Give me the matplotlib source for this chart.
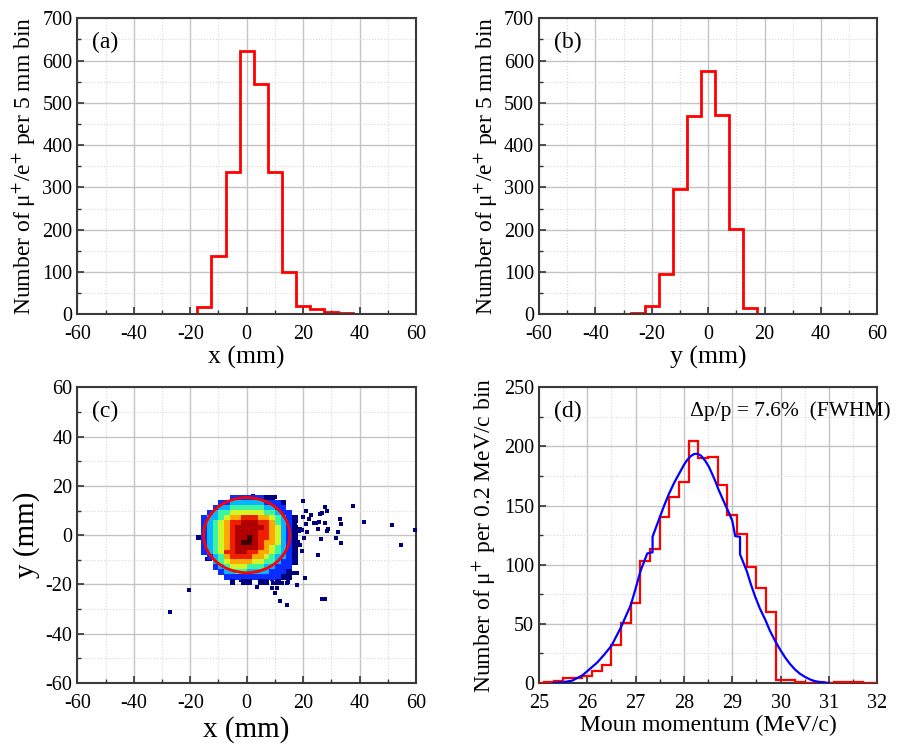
import numpy as np
import matplotlib
matplotlib.use("Agg")
import matplotlib.pyplot as plt
from matplotlib.ticker import MultipleLocator
from matplotlib.patches import Ellipse

plt.rcParams["font.family"] = "serif"
plt.rcParams["font.serif"] = ["Liberation Serif", "DejaVu Serif"]
plt.rcParams["mathtext.fontset"] = "stix"
plt.rcParams["axes.unicode_minus"] = False

# (a) x profile, 5 mm bins centred on multiples of 5
x_centers = [-60, -55, -50, -45, -40, -35, -30, -25, -20, -15, -10, -5, 0,
             5, 10, 15, 20, 25, 30, 35, 40, 45, 50, 55, 60]
x_counts = [0, 0, 0, 0, 0, 0, 0, 1, 1, 17, 138, 337, 623,
            545, 337, 99, 20, 12, 6, 2, 1, 0, 1, 1, 1]

# (b) y profile
y_centers = x_centers
y_counts = [0, 0, 0, 0, 0, 0, 1, 4, 20, 95, 297, 469, 576,
            471, 202, 16, 0, 0, 0, 0, 0, 0, 0, 0, 0]

# (c) beam spot: density levels on a 2 mm grid (1 = sparse ... 9 = densest)
core_x = [-17, -15, -13, -11, -9, -7, -5, -3, -1, 1, 3, 5, 7, 9, 11, 13, 15, 17]
core_y = [15, 13, 11, 9, 7, 5, 3, 1, -1, -3, -5, -7, -9, -11, -13, -15, -17, -19]
core_levels = [
    ". . . . . . 2 2 2 2 2 2 1 1 . . . .",
    ". . . . 2 2 3 3 3 3 3 3 2 2 2 1 . .",
    ". . . 2 3 3 4 4 4 4 4 4 3 3 2 2 . .",
    ". . 2 3 4 4 5 5 5 5 5 5 4 4 3 2 2 .",
    ". 2 3 3 4 5 6 6 7 7 7 6 6 5 4 3 2 1",
    ". 2 3 4 5 6 7 7 8 8 8 7 7 6 4 3 2 .",
    ". 2 3 4 5 6 7 8 8 8 8 8 7 6 5 3 2 1",
    ". 2 3 4 5 6 7 8 8 8 8 7 7 6 5 3 2 1",
    "1 2 3 4 5 6 7 8 8 9 8 7 7 6 5 3 2 1",
    ". 2 3 4 5 6 7 8 9 9 8 7 6 6 5 3 2 1",
    ". 2 3 4 5 6 7 8 8 8 8 7 6 5 4 3 2 1",
    ". 2 3 4 5 7 7 8 8 7 7 6 6 5 4 3 2 1",
    ". . 2 3 4 6 7 7 7 7 6 6 5 4 3 3 2 1",
    ". . . 3 4 5 6 6 6 6 5 5 4 4 3 2 2 1",
    ". . . 2 3 4 5 5 5 4 4 4 3 3 2 2 2 .",
    ". . . . 2 3 3 4 4 3 3 3 3 2 2 2 1 .",
    ". . . . . 2 2 2 2 2 2 2 2 2 2 1 1 .",
    ". . . . . . 1 . 1 1 . 1 1 . 1 . . .",
]
# sparse halo events
halo_x = [-27.2, -20.3, 59.5, 54.7, 51.5, 41.7, 37.8, 33.0, 33.5, 32.2, 31.7, 33.5,
          27.8, 28.6, 26.0, 26.6, 22.7, 21.1, 22.1, 19.9, 23.7, 24.5, 25.7, 27.6,
          28.7, 28.4, 26.3, 25.1, 21.1, 19.5, 18.6, 18.9, 17.5, 16.9, 21.3, 20.4,
          18.3, 18.9, 19.5, 17.5, 25.2, 16.8, 19.9, 27.8, 26.6, 20.5, 18.0, 16.6,
          18.0, 14.2, 11.8, 12.4, 10.8, 10.1, 8.9, 14.8, 3.6, 4.8, 5.9, 8.9,
          9.5, -2.1, 0.0, 1.2, 16.6, 15.4, 13.0, 13.6, 17.2, 15.4, 16.6, 17.8,
          16.2, 10.1, 9.5, 12.1, 2.2, -4.1, -15.1, -15.6, -14.2, -13.0, 14.2, 17.2]
halo_y = [-31.0, -22.3, 2.2, -4.0, 4.0, 5.3, 12.0, 6.5, 4.4, 1.1, -1.2, -3.3,
          11.4, 9.9, 8.7, 8.9, 8.0, 9.9, 6.6, 7.3, 4.9, 4.9, 5.5, 4.9,
          2.6, 1.5, -1.5, 2.4, 4.5, 2.2, 1.5, 2.5, 5.6, 5.1, 1.1, -1.2,
          -2.6, -3.9, -6.6, -5.3, -8.0, -8.7, 13.9, -25.8, -25.8, -17.5, -20.2, -15.5,
          -15.5, -28.3, -26.6, -19.6, -21.6, -23.6, -21.6, -18.9, -20.9, -19.3, -19.0, -17.9,
          -19.5, -18.4, -18.9, -17.5, -10.7, -12.7, -13.4, -16.8, -8.7, -6.7, -3.3, -2.6,
          -0.4, 15.4, 13.2, 12.9, 15.8, 15.5, 5.5, -1.8, -9.6, -9.6, -19.3, 5.0]
level_colors = {"1": "#00007e", "2": "#0a2cff", "3": "#08b4ff", "4": "#3cf5a0",
                "5": "#d2f52a", "6": "#ffa800", "7": "#f01e00", "8": "#b00000",
                "9": "#3c0000"}
spot_center = (0.0, 0.0)
spot_diameter = 30.5

# (d) momentum spectrum, 0.2 MeV/c bins
p_edges = [24.9, 25.1, 25.3, 25.5, 25.7, 25.9, 26.1, 26.3, 26.5, 26.7, 26.9, 27.1,
           27.3, 27.5, 27.7, 27.9, 28.1, 28.3, 28.5, 28.7, 28.9, 29.1, 29.3, 29.5,
           29.7, 29.9, 30.1, 30.3, 30.5, 30.7, 30.9, 31.1, 31.3, 31.5, 31.7, 31.9, 32.1]
p_counts = [0, 1, 2, 4, 4, 6, 10, 15, 32, 51, 68, 103,
            113, 140, 157, 170, 205, 190, 191, 167, 142, 126, 98, 80,
            60, 2.5, 2.5, 1, 0, 1, 0, 1, 1, 1, 0, 0]
fit_x = [25.30, 25.48, 25.69, 25.90, 26.00, 26.21, 26.35, 26.50, 26.69, 26.90,
         27.00, 27.10, 27.24, 27.35, 27.35, 27.48, 27.59, 27.69, 27.80, 27.90,
         28.00, 28.07, 28.14, 28.21, 28.28, 28.35, 28.44, 28.52, 28.58, 28.65,
         28.71, 28.78, 28.85, 28.93, 29.00, 29.06, 29.16, 29.16, 29.30, 29.38,
         29.47, 29.57, 29.68, 29.78, 29.89, 30.00, 30.10, 30.20, 30.30, 30.40,
         30.51, 30.62, 30.72, 30.85, 31.00]
fit_y = [0.0, 0.5, 2.0, 6.5, 10.0, 17.5, 24.0, 31.5, 46.6, 66.0,
         80.0, 94.6, 109.5, 110.5, 123.7, 138.0, 150.0, 160.0, 169.5, 177.0,
         184.5, 188.7, 191.8, 193.6, 193.8, 192.3, 187.9, 182.5, 177.0, 170.5,
         164.0, 157.5, 151.0, 144.0, 137.0, 124.2, 123.6, 108.8, 94.6, 84.0,
         73.4, 63.0, 53.7, 44.0, 35.3, 27.5, 21.2, 15.8, 11.3, 7.8,
         5.0, 2.8, 1.4, 0.5, 0.0]

TICK_SIZE = 14.5
LABEL_SIZE = 17


def style_axes(ax, xmaj, ymaj):
    ax.xaxis.set_major_locator(MultipleLocator(xmaj))
    ax.xaxis.set_minor_locator(MultipleLocator(xmaj / 2))
    ax.yaxis.set_major_locator(MultipleLocator(ymaj))
    ax.yaxis.set_minor_locator(MultipleLocator(ymaj / 2))
    ax.grid(which="major", color="#c4c4c4", linewidth=1.0)
    ax.grid(which="minor", color="#d8d8d8", linewidth=0.8, linestyle=":")
    ax.set_axisbelow(True)
    ax.tick_params(which="both", direction="in", top=False, right=False,
                   labelsize=TICK_SIZE, color="#333333")
    ax.tick_params(axis="x", which="both", pad=8)
    ax.tick_params(which="major", length=5, width=1.2)
    ax.tick_params(which="minor", length=3, width=1.0)
    for sp in ax.spines.values():
        sp.set_color("#3a3a3a")
        sp.set_linewidth(1.5)


def bin_edges(centers, width):
    return [c - width / 2 for c in centers] + [centers[-1] + width / 2]


fig = plt.figure(figsize=(8.97, 7.46), dpi=100)
ax_a = fig.add_axes([0.0862, 0.5787, 0.3776, 0.3968])
ax_b = fig.add_axes([0.6009, 0.5787, 0.3771, 0.3968])
ax_c = fig.add_axes([0.0862, 0.0845, 0.3776, 0.3963])
ax_d = fig.add_axes([0.6009, 0.0845, 0.3771, 0.3963])

# (a)
ax_a.stairs(x_counts, bin_edges(x_centers, 5), color="red", linewidth=2)
ax_a.set_xlim(-60, 60)
ax_a.set_ylim(0, 700)
style_axes(ax_a, 20, 100)
ax_a.set_xlabel("x (mm)", fontsize=18.5, labelpad=1)
ax_a.set_ylabel("Number of μ$^{+}$/e$^{+}$ per 5 mm bin", fontsize=LABEL_SIZE, labelpad=3)
ax_a.text(0.043, 0.92, "(a)", transform=ax_a.transAxes, fontsize=17, va="center")

# (b)
ax_b.stairs(y_counts, bin_edges(y_centers, 5), color="red", linewidth=2)
ax_b.set_xlim(-60, 60)
ax_b.set_ylim(0, 700)
style_axes(ax_b, 20, 100)
ax_b.set_xlabel("y (mm)", fontsize=18.5, labelpad=1)
ax_b.set_ylabel("Number of μ$^{+}$/e$^{+}$ per 5 mm bin", fontsize=LABEL_SIZE, labelpad=3)
ax_b.text(0.043, 0.92, "(b)", transform=ax_b.transAxes, fontsize=17, va="center")

# (c)
gx, gy, gc = [], [], []
for yv, row in zip(core_y, core_levels):
    for xv, ch in zip(core_x, row.split()):
        if ch != ".":
            gx.append(xv)
            gy.append(yv)
            gc.append(level_colors[ch])
ax_c.scatter(halo_x, halo_y, s=10, marker="s", color=level_colors["1"], linewidths=0, zorder=3)
ax_c.scatter(gx, gy, s=17, marker="s", c=gc, linewidths=0, zorder=3)
ax_c.add_patch(Ellipse(spot_center, spot_diameter, spot_diameter, fill=False,
                       edgecolor="red", linewidth=2, zorder=4))
ax_c.set_xlim(-60, 60)
ax_c.set_ylim(-60, 60)
style_axes(ax_c, 20, 20)
ax_c.set_xlabel("x (mm)", fontsize=21, labelpad=2)
ax_c.set_ylabel("y (mm)", fontsize=21)
ax_c.text(0.043, 0.92, "(c)", transform=ax_c.transAxes, fontsize=17, va="center")

# (d)
ax_d.stairs(p_counts, p_edges, color="red", linewidth=1.6, zorder=3)
ax_d.plot(fit_x, fit_y, color="blue", linewidth=1.6, zorder=4)
ax_d.set_xlim(25, 32)
ax_d.set_ylim(0, 250)
style_axes(ax_d, 1, 50)
ax_d.set_xlabel("Moun momentum (MeV/c)", fontsize=LABEL_SIZE, labelpad=1)
ax_d.set_ylabel("Number of μ$^{+}$ per 0.2 MeV/c bin", fontsize=LABEL_SIZE)
ax_d.text(0.043, 0.92, "(d)", transform=ax_d.transAxes, fontsize=17, va="center")
ax_d.text(0.446, 0.918, "Δp/p = 7.6%  (FWHM)", transform=ax_d.transAxes,
          fontsize=15.5, va="center", clip_on=False)

fig.savefig("out.png", dpi=100)
plt.close(fig)
